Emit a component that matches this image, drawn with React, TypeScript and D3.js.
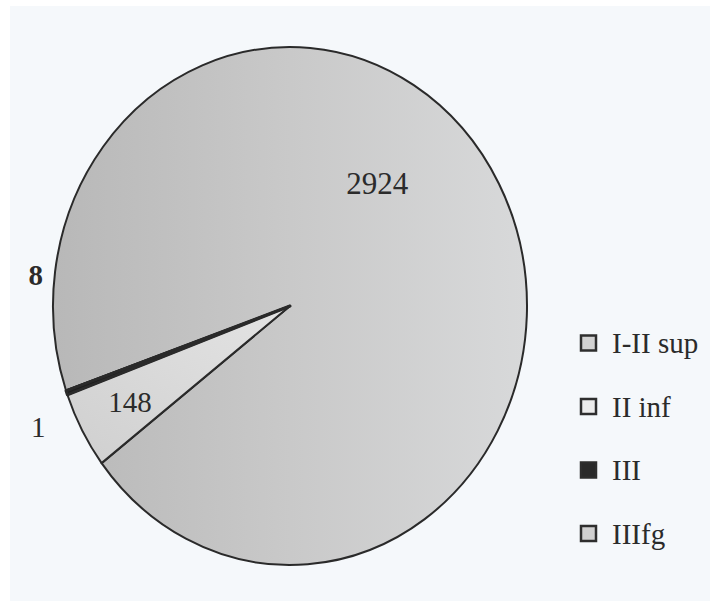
import { arc, pie, PieArcDatum } from "d3";
import React from "react";

const categories = ["I-II sup", "II inf", "III", "IIIfg"];
const counts = [2924, 148, 8, 1];
const labels = ["2924", "148", "8", "1"];

const width = 710;
const height = 601;
const cx = 290;
const cy = 306;
const rx = 237;
const ry = 259;
const sy = ry / rx;

const deg = Math.PI / 180;
const startAngle = -109 * deg;

const fills = ["url(#supGrad)", "url(#infGrad)", "#1e1e1e", "#c4c4c4"];
const legendFills = ["#d2d2d2", "#ececec", "#2a2a2a", "#d0d0d0"];

// label placement (angle offset from slice centroid, radius as fraction of R)
const labelPos = [
  { a: -24 * deg, r: 0.6 },
  { a: 0, r: 0.77 },
  { a: 26 * deg, r: 1.08 },
  { a: -4.6 * deg, r: 1.16 },
];

type D = PieArcDatum<number>;

export default function App() {
  const arcs = pie<number>()
    .sort(null)
    .value((d) => d)
    .startAngle(startAngle)
    .endAngle(startAngle + 2 * Math.PI)(counts);

  const slice = arc<D>().innerRadius(0).outerRadius(rx);

  const labelXY = (d: D, i: number) => {
    const mid = (d.startAngle + d.endAngle) / 2 + labelPos[i].a;
    const r = rx * labelPos[i].r;
    return [Math.sin(mid) * r, -Math.cos(mid) * r * sy];
  };

  const legendTop = 343;
  const legendStep = 63.5;

  return (
    <svg
      width={width}
      height={height}
      viewBox={`0 0 ${width} ${height}`}
      style={{
        position: "absolute",
        left: 0,
        top: 0,
        background: "#ffffff",
        fontFamily: "'Liberation Serif', 'Times New Roman', serif",
      }}
    >
      <defs>
        <linearGradient id="supGrad" x1="0" x2="1" y1="0" y2="0">
          <stop offset="0" stopColor="#b8b8b8" />
          <stop offset="0.5" stopColor="#c9c9c9" />
          <stop offset="1" stopColor="#d8d9da" />
        </linearGradient>
        <linearGradient id="infGrad" x1="0" x2="1" y1="1" y2="0">
          <stop offset="0" stopColor="#cfcfcf" />
          <stop offset="1" stopColor="#e4e4e4" />
        </linearGradient>
      </defs>
      <rect x={10} y={6} width={width - 10} height={height - 6} fill="#f5f8fb" />
      <g transform={`translate(${cx}, ${cy}) scale(1, ${sy})`}>
        {arcs.map((d, i) => (
          <path
            key={categories[i]}
            d={slice(d) ?? ""}
            fill={fills[i]}
            stroke="#2a2a2a"
            strokeWidth={i === 2 ? 3 : 2}
            strokeLinejoin="round"
            vectorEffect="non-scaling-stroke"
          />
        ))}
      </g>
      <g transform={`translate(${cx}, ${cy})`}>
        {arcs.map((d, i) => {
          const [x, y] = labelXY(d, i);
          return (
            <text
              key={labels[i]}
              x={x}
              y={y}
              textAnchor="middle"
              dominantBaseline="central"
              fontSize={i === 0 ? 31 : 29}
              fontWeight={i === 2 ? "bold" : "normal"}
              fill="#2b2b2b"
            >
              {labels[i]}
            </text>
          );
        })}
      </g>
      <g>
        {categories.map((c, i) => (
          <g key={c} transform={`translate(581, ${legendTop + i * legendStep})`}>
            <rect
              x={0}
              y={-7.5}
              width={15}
              height={15}
              fill={legendFills[i]}
              stroke="#2e2e2e"
              strokeWidth={2.5}
            />
            <text x={31} y={0} dominantBaseline="central" fontSize={29} fill="#2b2b2b">
              {c}
            </text>
          </g>
        ))}
      </g>
    </svg>
  );
}
